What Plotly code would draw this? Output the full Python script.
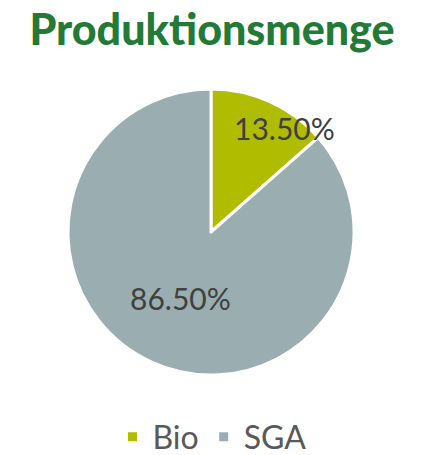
import math
import plotly.graph_objects as go

# -----------------------------
# Data
# -----------------------------
categories = ["Bio", "SGA"]
shares = [13.5, 86.5]
colors = ["#b0bc00", "#9aaeb1"]

# -----------------------------
# Geometry of the pie (pixels)
# -----------------------------
W, H = 424, 455
cx, cy, r = 211, 232, 143

# label placement: fraction of radius + angle offset (deg) per slice
label_radius = [0.89, 0.51]
label_shift = [11, 0]

fig = go.Figure()

fig.add_trace(
    go.Pie(
        labels=categories,
        values=shares,
        sort=False,
        direction="clockwise",
        rotation=0,
        marker=dict(colors=colors, line=dict(color="white", width=3)),
        textinfo="none",
        hoverinfo="label+percent",
        domain=dict(
            x=[(cx - r) / W, (cx + r) / W],
            y=[(H - cy - r) / H, (H - cy + r) / H],
        ),
    )
)

# percent labels, positioned from slice mid-angles
total = sum(shares)
start = 0.0
for i, v in enumerate(shares):
    mid = start + v / total * 360 / 2 + label_shift[i]
    start += v / total * 360
    a = math.radians(mid)
    px = cx + label_radius[i] * r * math.sin(a)
    py = cy - label_radius[i] * r * math.cos(a)
    fig.add_annotation(
        x=px / W,
        y=1 - py / H,
        xref="paper",
        yref="paper",
        xanchor="center",
        yanchor="middle",
        text=f"{v:.2f}%",
        showarrow=False,
        font=dict(size=30, color="#404040", family="Lato"),
    )

fig.update_layout(
    width=W,
    height=H,
    margin=dict(l=0, r=0, t=0, b=0, autoexpand=False),
    paper_bgcolor="white",
    plot_bgcolor="white",
    title=dict(
        text="Produktionsmenge",
        x=0.5,
        xanchor="center",
        y=1 - 30 / H,
        yanchor="middle",
        font=dict(size=43, color="#237a36", family="Lato", weight=900),
    ),
    showlegend=True,
    legend=dict(
        orientation="h",
        x=0.5,
        xanchor="center",
        y=1 - 437 / H,
        yanchor="middle",
        font=dict(size=32, color="#595959", family="Lato"),
    ),
)

fig.write_html(
    "out.html",
    config={"displayModeBar": False},
    post_script="document.body.style.margin='0';",
)
